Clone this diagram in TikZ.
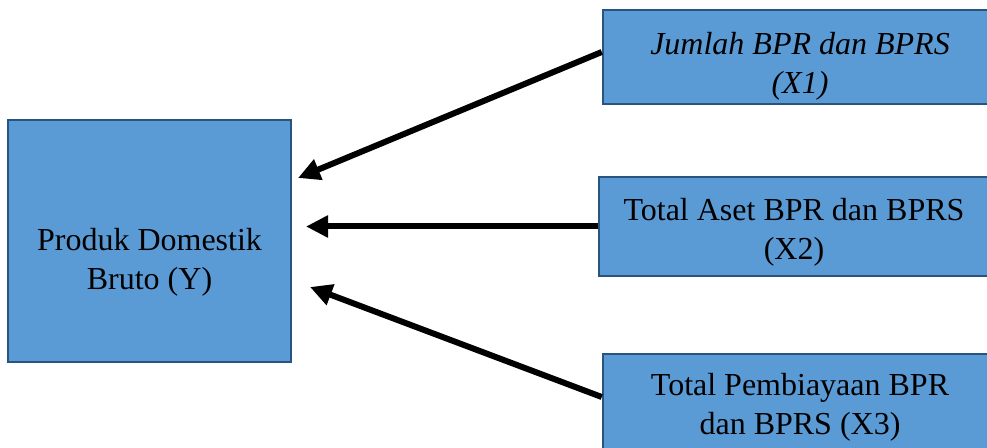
\documentclass[tikz,border=0pt]{standalone}
\usepackage{fontspec}
\setmainfont{Liberation Serif}
\usetikzlibrary{arrows.meta}
\definecolor{boxfill}{HTML}{5B9BD5}
\definecolor{boxline}{HTML}{2A5480}
\begin{document}
\begin{tikzpicture}[x=1pt,y=1pt,
  bx/.style={draw=boxline, line width=2.5pt, fill=boxfill, rectangle, inner sep=0pt},
  txt/.style={align=center, inner sep=0pt, font=\fontsize{32}{39}\selectfont},
  conn/.style={line width=6pt, -{Triangle[length=22pt,width=21pt]}}]
\useasboundingbox (0,0) rectangle (987,447);
\clip (0,0) rectangle (987,447);
\node[bx, minimum width=283, minimum height=242] (Y) at (149.5,206) {};
\node[bx, minimum width=394, minimum height=94] (X1) at (800,390) {};
\node[bx, minimum width=390, minimum height=99] (X2) at (794,220.5) {};
\node[bx, minimum width=394, minimum height=100] (X3) at (800,43) {};
\node[txt] (Yt) at ([yshift=-21]Y.center) {Produk Domestik\\Bruto (Y)};
\node[txt] (X1t) at ([yshift=-9]X1.center) {\itshape Jumlah BPR dan BPRS\\\itshape (X1)};
\node[txt] (X2t) at ([yshift=-6]X2.center) {Total Aset BPR dan BPRS\\(X2)};
\node[txt] (X3t) at ([yshift=-3]X3.center) {Total Pembiayaan BPR\\dan BPRS (X3)};
\coordinate (t1) at (298,269);
\coordinate (t2) at (306,220.5);
\coordinate (t3) at (310,160);
\draw[conn] ([yshift=5]X1.west) -- (t1);
\draw[conn] (X2.west) -- (t2);
\draw[conn] ([yshift=7]X3.west) -- (t3);
\end{tikzpicture}
\end{document}
